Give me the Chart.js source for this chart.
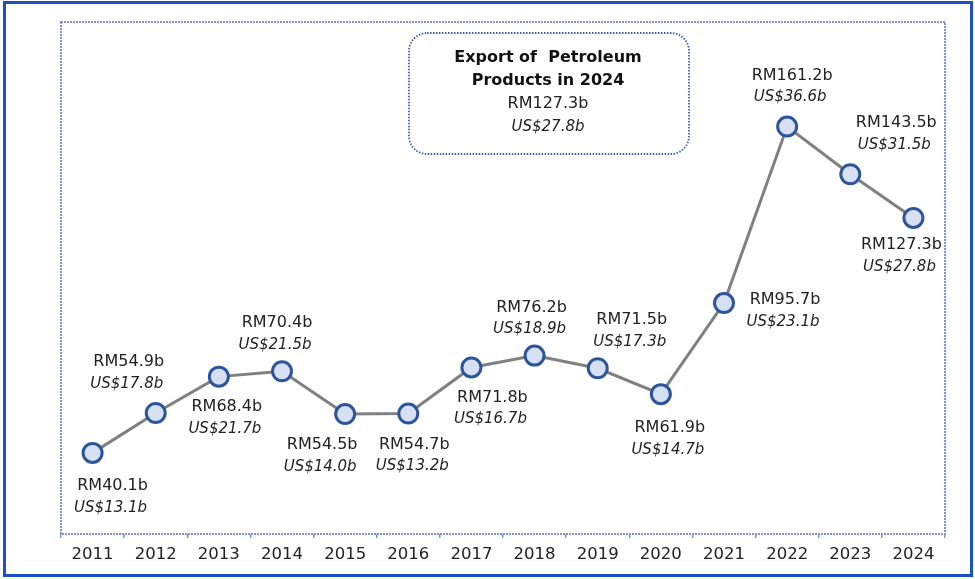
<!DOCTYPE html>
<html>
<head>
<meta charset="utf-8">
<script src="https://cdn.jsdelivr.net/npm/chart.js@4"></script>
<style>
  html, body { margin: 0; padding: 0; background: #fff; }
  #wrap { position: relative; width: 975px; height: 579px; }
  #frame { position: absolute; left: 3px; top: 1px; width: 964px; height: 570px; border: 3px solid #1f4fc4; pointer-events: none; }
  canvas { position: absolute; left: 0; top: 0; }
</style>
</head>
<body>
<div id="wrap">
  <canvas id="myChart" width="975" height="579"></canvas>
  <div id="frame"></div>
</div>
<script>
// data
let years = ['2011', '2012', '2013', '2014', '2015', '2016', '2017', '2018', '2019', '2020', '2021', '2022', '2023', '2024'];
let rmValues = [40.1, 54.9, 68.4, 70.4, 54.5, 54.7, 71.8, 76.2, 71.5, 61.9, 95.7, 161.2, 143.5, 127.3];
let usValues = [13.1, 17.8, 21.7, 21.5, 14.0, 13.2, 16.7, 18.9, 17.3, 14.7, 23.1, 36.6, 31.5, 27.8];
let boxTitle = ['Export of  Petroleum', 'Products in 2024'];
let boxRm = 'RM127.3b';
let boxUs = 'US$27.8b';

// where each label sits relative to its point (dx, dy of the RM line)
let labelOffsets = [
  [20, 33], [-27, -51], [8, 30], [-5, -48], [-23, 31], [6, 31], [21, 30],
  [-3, -48], [34, -48], [9, 34], [61, -3], [5, -51], [46, -51], [-12, 27]
];

const fontName = '"DejaVu Sans", sans-serif';
const textColor = '#222222';
const dotBlue = '#8095cc';

const decorations = {
  id: 'decorations',
  beforeDatasetsDraw(chart) {
    const ctx = chart.ctx;
    const a = chart.chartArea;
    ctx.save();
    ctx.strokeStyle = dotBlue;
    ctx.lineWidth = 2;
    ctx.setLineDash([2, 1]);
    ctx.strokeRect(a.left, a.top, a.right - a.left, a.bottom - a.top);

    // title box
    ctx.lineWidth = 1.8;
    ctx.strokeStyle = '#3d5da8';
    ctx.setLineDash([1.5, 1.5]);
    ctx.beginPath();
    ctx.roundRect(409, 33, 280, 121, 18);
    ctx.stroke();
    ctx.restore();

    ctx.save();
    ctx.fillStyle = '#111';
    ctx.textAlign = 'center';
    ctx.textBaseline = 'middle';
    ctx.font = 'bold 16px ' + fontName;
    ctx.fillText(boxTitle[0], 548, 58);
    ctx.fillText(boxTitle[1], 548, 81);
    ctx.fillStyle = textColor;
    ctx.font = '16px ' + fontName;
    ctx.fillText(boxRm, 548, 104);
    ctx.font = 'italic 15px ' + fontName;
    ctx.fillText(boxUs, 548, 127);
    ctx.restore();
  },
  afterDatasetsDraw(chart) {
    const ctx = chart.ctx;
    const pts = chart.getDatasetMeta(0).data;
    ctx.save();
    ctx.fillStyle = textColor;
    ctx.textAlign = 'center';
    ctx.textBaseline = 'middle';
    pts.forEach((p, i) => {
      const x = p.x + labelOffsets[i][0];
      const y = p.y + labelOffsets[i][1];
      ctx.font = '16px ' + fontName;
      ctx.fillText('RM' + rmValues[i].toFixed(1) + 'b', x, y);
      ctx.font = 'italic 15px ' + fontName;
      ctx.fillText('US$' + usValues[i].toFixed(1) + 'b', x - 2, y + 22);
    });
    ctx.restore();
  }
};

new Chart(document.getElementById('myChart'), {
  type: 'line',
  data: {
    labels: years,
    datasets: [{
      data: rmValues,
      borderColor: '#808080',
      borderWidth: 3,
      pointRadius: 9.5,
      pointHoverRadius: 9.5,
      pointBackgroundColor: '#d7e0f2',
      pointBorderColor: '#2d559c',
      pointBorderWidth: 3,
      tension: 0
    }]
  },
  options: {
    responsive: false,
    animation: false,
    events: [],
    layout: { padding: { left: 61, top: 22, right: 30, bottom: 0 } },
    plugins: { legend: { display: false }, tooltip: { enabled: false } },
    scales: {
      x: {
        offset: true,
        afterFit(scale) { scale.height = 45; },
        grid: { offset: true, drawOnChartArea: false, drawTicks: true, tickLength: 4, color: dotBlue, lineWidth: 1.5 },
        border: { display: false },
        ticks: { color: textColor, font: { family: fontName, size: 16.5 }, padding: 7, maxRotation: 0 }
      },
      y: { display: false, min: 10, max: 200 }
    }
  },
  plugins: [decorations]
});
</script>
</body>
</html>
